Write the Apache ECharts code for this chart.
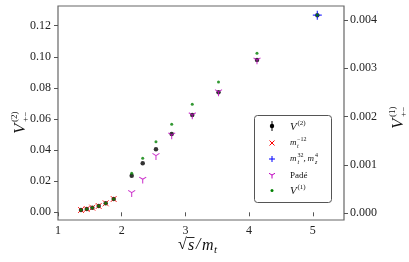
<!DOCTYPE html>
<html><head><meta charset="utf-8">
<script src="https://cdn.jsdelivr.net/npm/echarts@6/dist/echarts.min.js"></script>
<style>html,body{margin:0;padding:0;background:#fff}#c{width:409px;height:262px}</style>
</head><body><div id="c"></div><script>
// x positions (sqrt(s)/m_t)
const sqrtSOverMt = [1.361,1.451,1.539,1.639,1.749,1.874,2.157,2.330,2.538,2.785,3.108,3.520,4.124,5.071];
// V^(2) (left axis)
const v2Values = [0.00148,0.00212,0.00296,0.00405,0.00579,0.00855,0.0235,0.0315,0.0405,0.0504,0.0626,0.0772,0.0979,0.1268];
// m_t^-12 expansion (left axis)
const mt12X = [1.361,1.451,1.539,1.639,1.749,1.874];
const mt12Values = [0.00148,0.00212,0.00296,0.00405,0.00579,0.00855];
// m_t^32, m_z^4 expansion (left axis)
const mt32X = [5.071];
const mt32Values = [0.1268];
// Pade (left axis)
const padeX = [2.157,2.330,2.538,2.785,3.108,3.520,4.124];
const padeValues = [0.0126,0.0212,0.0364,0.0497,0.0626,0.0774,0.0979];
// V^(1) (right axis)
const v1Values = [0.0000683,0.000089,0.000116,0.000151,0.000207,0.000296,0.000828,0.001138,0.001482,0.001842,0.002256,0.002717,0.003311,0.004103];
// ticks
const xTicks = [1,2,3,4,5];
const leftTicks = [0,0.02,0.04,0.06,0.08,0.10,0.12];
const rightTicks = [0,0.001,0.002,0.003,0.004];

const pairs = (xs, ys) => xs.map((x, i) => [x, ys[i]]);
const SERIF = '"Liberation Serif", "DejaVu Serif", serif';
const VCAL = 'V';
const SYM_X = 'path://M0,0L10,10M10,0L0,10';
const SYM_PLUS = 'path://M5,0L5,10M0,5L10,5';
const SYM_TRI = 'path://M5,5L5,10M5,5L0.67,2.5M5,5L9.33,2.5';

function T(x, y, s, size, italic, z) {
  return {type:'text', x:x, y:y, z:z||10, style:{text:s, font:(italic?'italic ':'')+size+'px '+SERIF, fill:'#111', align:'left', verticalAlign:'middle'}};
}
function L(x1,y1,x2,y2,c,w,z){return {type:'line', z:z||10, shape:{x1:x1,y1:y1,x2:x2,y2:y2}, style:{stroke:c, lineWidth:w||1}};}

const chart = echarts.init(document.getElementById('c'), null, {renderer:'canvas'});
const tickStyle = {color:'#555', width:1};
const lblStyle = {fontFamily:SERIF, fontSize:12, color:'#222'};
const LZ = 120;
chart.setOption({
  animation:false,
  grid:{left:58, right:65, top:6, bottom:42, show:true, borderColor:'#666', borderWidth:1.2, backgroundColor:'transparent'},
  xAxis:{type:'value', min:1, max:5.49, axisLine:{show:false}, splitLine:{show:false},
    axisTick:{show:true, inside:false, length:4, customValues:xTicks, lineStyle:tickStyle},
    axisLabel:Object.assign({customValues:xTicks, margin:5, formatter:v=>String(v)}, lblStyle)},
  yAxis:[
    {type:'value', position:'left', min:-0.00495, max:0.1327, axisLine:{show:false}, splitLine:{show:false},
     axisTick:{show:true, inside:false, length:4, customValues:leftTicks, lineStyle:tickStyle},
     axisLabel:Object.assign({customValues:leftTicks, margin:7, formatter:v=>v.toFixed(2)}, lblStyle)},
    {type:'value', position:'right', min:-0.000139, max:0.00429, axisLine:{show:false}, splitLine:{show:false},
     axisTick:{show:true, inside:false, length:4, customValues:rightTicks, lineStyle:tickStyle},
     axisLabel:Object.assign({customValues:rightTicks, margin:6, formatter:v=>v.toFixed(3)}, lblStyle)}
  ],
  series:[
    {type:'scatter', name:'V2', data:pairs(sqrtSOverMt, v2Values), symbol:'circle', symbolSize:4.5, itemStyle:{color:'#000'}, z:2},
    {type:'scatter', name:'mt12', data:pairs(mt12X, mt12Values), symbol:SYM_X, symbolSize:6, itemStyle:{color:'#ff0000', borderColor:'#ff0000', borderWidth:1}, z:3},
    {type:'scatter', name:'mt32', data:pairs(mt32X, mt32Values), symbol:SYM_PLUS, symbolSize:9, itemStyle:{color:'#0000ff', borderColor:'#0000ff', borderWidth:1.2}, z:4},
    {type:'scatter', name:'pade', data:pairs(padeX, padeValues), symbol:SYM_TRI, symbolSize:[7,6.5], symbolOffset:[0,1], itemStyle:{color:'#bf00bf', borderColor:'#bf00bf', borderWidth:1}, z:5},
    {type:'scatter', name:'V1', yAxisIndex:1, data:pairs(sqrtSOverMt, v1Values), symbol:'circle', symbolSize:3, itemStyle:{color:'#008000'}, z:6}
  ],
  graphic:[
    // y-axis labels
    {type:'group', x:21, y:134, rotation:Math.PI/2, children:[
      T(0,0,VCAL,17,true), T(12,-6,'(2)',9,false), T(12,5,'+−',9,false)
    ]},
    {type:'group', x:399, y:129, rotation:Math.PI/2, children:[
      T(0,0,VCAL,17,true), T(12,-6,'(1)',9,false), T(12,5,'+−',9,false)
    ]},
    // x-axis label
    T(178,245,'√',16,false), L(186.5,237.5,194.5,237.5,'#111',0.9), T(188,246,'s',16,true), T(196,245,'/',16,true), T(202,246,'m',16,true), T(214,250,'t',11,true),
    // legend
    {type:'rect', z:LZ, shape:{x:254.5, y:115.5, width:77, height:87, r:3}, style:{fill:'#fff', stroke:'#555', lineWidth:1}},
    L(272,121,272,131,'#000',1,LZ+1), {type:'circle', z:LZ+1, shape:{cx:272, cy:126, r:2.2}, style:{fill:'#000'}},
    L(269.5,140.5,274.5,145.5,'#ff0000',1,LZ+1), L(269.5,145.5,274.5,140.5,'#ff0000',1,LZ+1),
    L(269,159,275,159,'#0000ff',1,LZ+1), L(272,156,272,162,'#0000ff',1,LZ+1),
    L(272,175,272,178.5,'#bf00bf',1,LZ+1), L(272,175,269,173.3,'#bf00bf',1,LZ+1), L(272,175,275,173.3,'#bf00bf',1,LZ+1),
    {type:'circle', z:LZ+1, shape:{cx:272, cy:190.5, r:1.5}, style:{fill:'#008000'}},
    T(290,127,VCAL,11,true,LZ+1), T(297.5,123,'(2)',7,false,LZ+1),
    T(290,143,'m',9,true,LZ+1), T(297,146,'t',6,true,LZ+1), T(297,139.5,'−12',6,false,LZ+1),
    T(290,159,'m',9,true,LZ+1), T(297.5,162,'t',6,true,LZ+1), T(297.5,155.5,'32',6,false,LZ+1), T(303.5,159,',',9,false,LZ+1),
    T(307.5,159,'m',9,true,LZ+1), T(315,162,'z',6,true,LZ+1), T(315,155.5,'4',6,false,LZ+1),
    T(290,175.5,'Padé',9,false,LZ+1),
    T(290,191,VCAL,11,true,LZ+1), T(297.5,187,'(1)',7,false,LZ+1)
  ]
});
</script></body></html>
